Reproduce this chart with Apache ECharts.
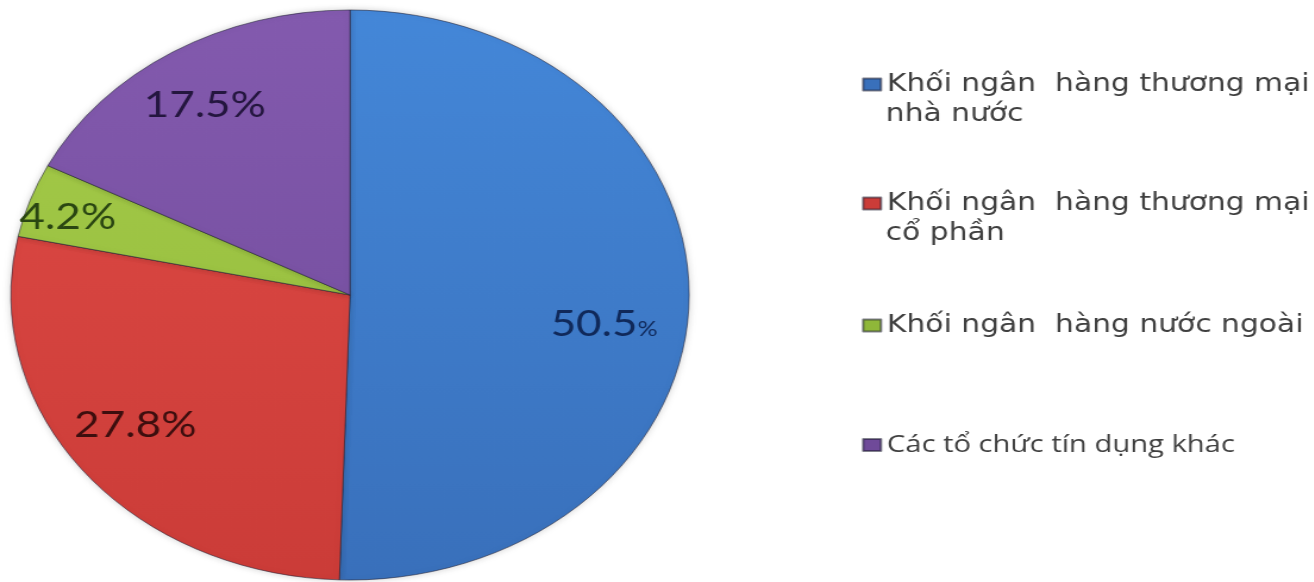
<!DOCTYPE html>
<html>
<head>
<meta charset="utf-8">
<script src="https://cdn.jsdelivr.net/npm/echarts@6/dist/echarts.min.js"></script>
<style>
html,body{margin:0;padding:0;background:#fff;overflow:hidden;}
#wrap{width:1314px;height:582px;overflow:hidden;position:relative;}
#chart{position:absolute;left:0;top:0;height:582px;transform-origin:0 0;}
</style>
</head>
<body>
<div id="wrap"><div id="chart"></div></div>
<script>
// ---- data ----
var categories = [
  'Khối ngân hàng thương mại nhà nước',
  'Khối ngân hàng thương mại cổ phần',
  'Khối ngân hàng nước ngoài',
  'Các tổ chức tín dụng khác'
];
var values = [50.5, 27.8, 4.2, 17.5];
var valueLabels = ['50.5', '27.8', '4.2', '17.5'];
var legendLines = [
  ['Khối ngân  hàng thương mại', 'nhà nước'],
  ['Khối ngân  hàng thương mại', 'cổ phần'],
  ['Khối ngân  hàng nước ngoài'],
  ['Các tổ chức tín dụng khác']
];

// ---- style ----
var SX = 1.19; // horizontal stretch of the original picture
var colorsTop = ['#4487d8', '#e04b46', '#a7cd4b', '#835aae'];
var colorsBottom = ['#3970bb', '#cb3c38', '#8fb739', '#6f4a99'];
var labelColors = ['#10295a', '#3d0e0e', '#2a4612', '#24163f'];
var labelOffsets = [[68, 27], [-66, 40], [-100, -30], [-46, -66]];
var legendTops = [69.5, 188.5, 310.5, 430.5];
var legendFonts = [
  {family: 'DejaVu Sans', size: 25, lh: 30},
  {family: 'DejaVu Sans', size: 25, lh: 30},
  {family: 'DejaVu Sans', size: 25, lh: 30},
  {family: 'Open Sans', size: 24.5, lh: 29}
];
var LEG_LEFT = 862 / SX, ICON_W = 15, ICON_H = 12;
var TEXT_COLOR = '#3f3f3f';
var CY = 295, R = 285;

var W = 1314 / SX;
var el = document.getElementById('chart');
el.style.width = W + 'px';
el.style.transform = 'scaleX(' + SX + ')';

var chart = echarts.init(el, null, {renderer: 'canvas', width: W, height: 582});

var legends = categories.map(function (name, i) {
  var f = legendFonts[i];
  return {
    data: [name],
    orient: 'vertical',
    left: LEG_LEFT,
    top: legendTops[i],
    padding: 0,
    icon: 'rect',
    itemWidth: ICON_W,
    itemHeight: ICON_H,
    itemGap: 0,
    selectedMode: false,
    itemStyle: {color: colorsBottom[i]},
    formatter: function () { return legendLines[i][0]; },
    textStyle: {
      fontFamily: f.family,
      fontSize: f.size,
      color: TEXT_COLOR,
      lineHeight: f.lh
    }
  };
});

// continuation lines of the wrapped legend entries
var graphics = [];
legendLines.forEach(function (lines, i) {
  var f = legendFonts[i];
  for (var k = 1; k < lines.length; k++) {
    graphics.push({
      type: 'text',
      left: LEG_LEFT + ICON_W + 5,
      top: legendTops[i] + f.lh * k,
      silent: true,
      style: {
        text: lines[k],
        fontFamily: f.family,
        fontSize: f.size,
        lineHeight: f.lh,
        fill: TEXT_COLOR
      }
    });
  }
});

var pieData = categories.map(function (name, i) {
  return {
    name: name,
    value: values[i],
    itemStyle: {
      color: new echarts.graphic.LinearGradient(0, CY - R, 0, CY + R, [
        {offset: 0, color: colorsTop[i]},
        {offset: 1, color: colorsBottom[i]}
      ], true)
    },
    label: {
      offset: labelOffsets[i],
      formatter: '{v|' + valueLabels[i] + '}{p|%}',
      rich: {
        v: {fontFamily: 'Lato', fontSize: 37, color: labelColors[i]},
        p: {fontFamily: 'Lato', fontSize: i === 0 ? 21 : 37, color: labelColors[i], verticalAlign: 'bottom', padding: i === 0 ? [0, 0, 3, 0] : 0}
      }
    }
  };
});

chart.setOption({
  animation: false,
  backgroundColor: '#ffffff',
  legend: legends,
  graphic: graphics,
  series: [{
    type: 'pie',
    center: [350 / SX, CY],
    radius: R,
    startAngle: 90,
    clockwise: true,
    avoidLabelOverlap: false,
    label: {show: true, position: 'inside'},
    labelLine: {show: false},
    itemStyle: {
      borderColor: 'rgba(30,30,50,0.55)',
      borderWidth: 1,
      shadowColor: 'rgba(0,0,0,0.18)',
      shadowBlur: 6
    },
    emphasis: {disabled: true},
    data: pieData
  }]
});
</script>
</body>
</html>
